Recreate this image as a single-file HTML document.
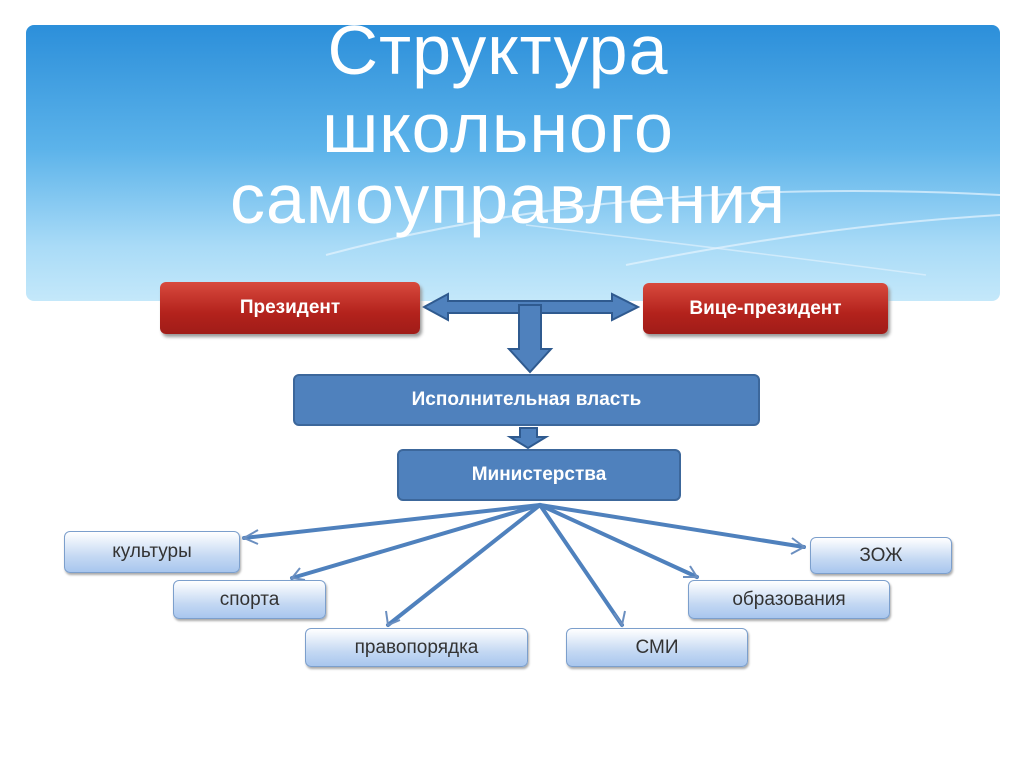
<!DOCTYPE html>
<html><head><meta charset="utf-8"><style>
body{margin:0;width:1024px;height:768px;background:#fff;overflow:hidden;position:relative;font-family:"Liberation Sans","DejaVu Sans",sans-serif}
.hdr{position:absolute;left:26px;top:25px;width:974px;height:276px;border-radius:8px;background:linear-gradient(#2c8fda 0%,#5cb3ea 45%,#a9dbf7 80%,#c4e8fa 100%);overflow:hidden}
.t{position:absolute;left:0;width:1024px;text-align:center;color:#fff;font-size:70px;line-height:76px;letter-spacing:1px}
.b{position:absolute;display:flex;align-items:center;justify-content:center;box-sizing:border-box;border-radius:6px}
.r{background:linear-gradient(#d84a3e,#b3221c 60%,#a01c18);color:#fff;font-weight:bold;font-size:19px;box-shadow:2px 3px 3px #999}
.bl{background:#4f81bd;border:2px solid #3c679b;color:#fff;font-weight:bold;font-size:19px}
.s{background:linear-gradient(#fff,#c5d9f3 60%,#a8c6ee);border:1.5px solid #7c9fcc;color:#333;font-size:19px;box-shadow:1px 2px 2px #aaa}
</style></head><body>
<div class="hdr">
<svg width="974" height="276" style="position:absolute;left:0;top:0"><path d="M300 230 Q600 150 974 170" stroke="#e6f4fd" stroke-width="2" fill="none" opacity=".7"/><path d="M600 240 Q800 200 974 190" stroke="#e6f4fd" stroke-width="2" fill="none" opacity=".7"/><path d="M500 200 Q750 230 900 250" stroke="#e6f4fd" stroke-width="1.5" fill="none" opacity=".6"/></svg>
</div>
<div class="t" style="top:12px;left:-14px">Структура</div>
<div class="t" style="top:90px;left:-14px">школьного</div>
<div class="t" style="top:161px;left:-4px">самоуправления</div>
<svg width="1024" height="768" style="position:absolute;left:0;top:0">
<g fill="#4f81bd" stroke="#2f5a8f" stroke-width="2">
<path d="M424 307 L448 294 L448 301 L612 301 L612 294 L638 307 L612 320 L612 313 L448 313 L448 320 Z"/>
<path d="M519 305 L541 305 L541 349 L551 349 L530 372 L509 349 L519 349 Z"/>
<path d="M520 428 L537 428 L537 437 L546 437 L528 448 L510 437 L520 437 Z"/>
</g>
<g stroke="#4f81bd" stroke-width="4" fill="none" stroke-linecap="round">
<line x1="540" y1="505" x2="244" y2="538"/>
<line x1="540" y1="505" x2="292" y2="578"/>
<line x1="540" y1="505" x2="388" y2="625"/>
<line x1="540" y1="505" x2="622" y2="625"/>
<line x1="540" y1="505" x2="697" y2="577"/>
<line x1="540" y1="505" x2="804" y2="547"/>
</g>
<g stroke="#6b8fc0" stroke-width="2" fill="none">
<path d="M258 530 L244 538 L258 544"/>
<path d="M300 568 L292 578 L305 580"/>
<path d="M386 611 L388 625 L400 620"/>
<path d="M625 611 L622 625 L614 613"/>
<path d="M683 577 L697 577 L690 566"/>
<path d="M792 538 L804 547 L791 554"/>
</g>
</svg>
<div class="b r" style="left:160px;top:282px;width:260px;height:52px">Президент</div>
<div class="b r" style="left:643px;top:283px;width:245px;height:51px">Вице-президент</div>
<div class="b bl" style="left:293px;top:374px;width:467px;height:52px">Исполнительная власть</div>
<div class="b bl" style="left:397px;top:449px;width:284px;height:52px">Министерства</div>
<div class="b s" style="left:64px;top:531px;width:176px;height:42px">культуры</div>
<div class="b s" style="left:173px;top:580px;width:153px;height:39px">спорта</div>
<div class="b s" style="left:305px;top:628px;width:223px;height:39px">правопорядка</div>
<div class="b s" style="left:566px;top:628px;width:182px;height:39px">СМИ</div>
<div class="b s" style="left:688px;top:580px;width:202px;height:39px">образования</div>
<div class="b s" style="left:810px;top:537px;width:142px;height:37px">ЗОЖ</div>
</body></html>
